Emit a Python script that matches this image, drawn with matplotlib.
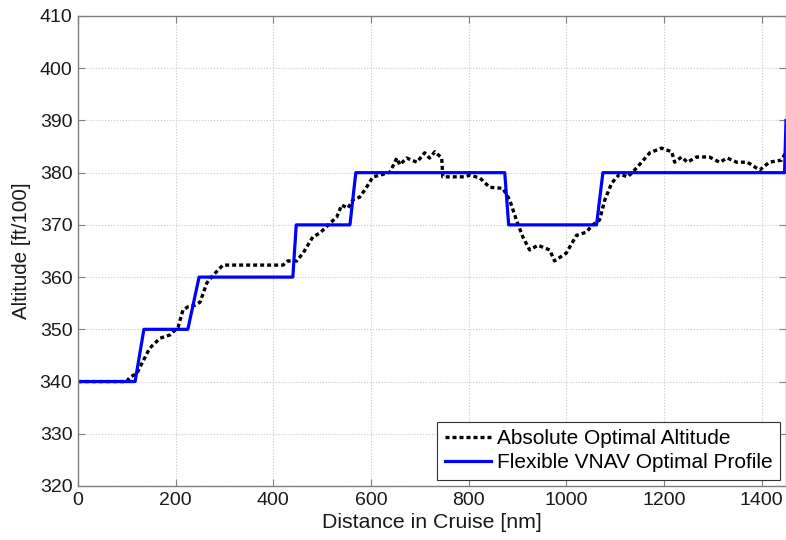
import matplotlib
matplotlib.use('Agg')
import matplotlib.pyplot as plt
import numpy as np

plt.rcParams['font.family'] = ['Liberation Sans', 'DejaVu Sans']

# absolute optimal altitude (noisy optimum along the cruise)
abs_dist = [0, 100, 106, 121, 131, 147, 168, 188, 205, 215, 225, 239, 250, 264, 277,
            297, 420, 430, 448, 461, 481, 495, 516, 530, 540, 553, 563, 577, 591,
            604, 618, 639, 653, 659, 673, 694, 710, 720, 731, 745, 747, 768, 792,
            802, 823, 843, 870, 884, 898, 911, 925, 942, 966, 976, 1000, 1021,
            1041, 1054, 1068, 1079, 1093, 1109, 1126, 1144, 1171, 1195, 1216,
            1222, 1236, 1248, 1267, 1293, 1314, 1330, 1349, 1371, 1396, 1416,
            1441, 1450]
abs_alt = [340, 340, 340.8, 341.6, 343.5, 346.4, 348.3, 348.9, 350.4, 353.7, 354.3,
           354.6, 355.2, 358.9, 360.4, 362.3, 362.3, 363.1, 363.1, 364.6, 367.7,
           368.4, 370.3, 371.5, 373.8, 373.2, 374.8, 375.3, 377.2, 379.2, 379.5,
           380.1, 382.8, 381.5, 382.8, 382.0, 383.8, 382.8, 384.0, 382.8, 379.2,
           379.2, 379.2, 379.5, 379.0, 377.2, 377.0, 374.8, 370.9, 367.7, 365.2,
           366.1, 365.2, 363.1, 364.6, 368.0, 368.6, 370.0, 370.9, 374.8, 378.0,
           379.7, 379.2, 380.9, 383.8, 384.7, 384.0, 382.0, 383.0, 382.0, 383.0,
           383.0, 382.0, 382.8, 382.0, 382.0, 380.5, 382.0, 382.4, 384.0]

# flexible VNAV step profile
vnav_dist = [0, 117, 135, 225, 248, 440, 447, 557, 569, 874, 882, 1062, 1075, 1447, 1450]
vnav_alt = [340, 340, 350, 350, 360, 360, 370, 370, 380, 380, 370, 370, 380, 380, 390]

fig = plt.figure(figsize=(7.86, 5.40), dpi=100)
ax = fig.add_axes([0.0992, 0.10, 0.9008, 0.8704])

ax.plot(abs_dist, abs_alt, color='black', lw=2.4, linestyle=(0, (1.2, 0.9)),
        label='Absolute Optimal Altitude')
ax.plot(vnav_dist, vnav_alt, color='#0000ff', lw=2.3,
        label='Flexible VNAV Optimal Profile')

ax.set_xlim(0, 1450)
ax.set_ylim(320, 410)
ax.set_xticks(np.arange(0, 1401, 200))
ax.set_yticks(np.arange(320, 411, 10))
ax.grid(True, linestyle=':', color='#c8c8c8', lw=0.8)
ax.tick_params(direction='in', length=5, width=0.8, color='#808080',
               labelsize=14, top=True, right=True, pad=4, labelcolor='#1a1a1a')
for s in ax.spines.values():
    s.set_color('#808080')
    s.set_linewidth(1.0)

ax.set_xlabel('Distance in Cruise [nm]', fontsize=15.3, labelpad=3, color='#1a1a1a')
ax.set_ylabel('Altitude [ft/100]', fontsize=14.8, labelpad=6, color='#1a1a1a')

leg = ax.legend(loc='lower right', fontsize=15, fancybox=False, framealpha=1,
                edgecolor='#333333', handlelength=2.2, handletextpad=0.3,
                borderpad=0.35, labelspacing=0.25, borderaxespad=0.3)
leg.get_frame().set_linewidth(0.8)

fig.savefig('out.png', dpi=100)
